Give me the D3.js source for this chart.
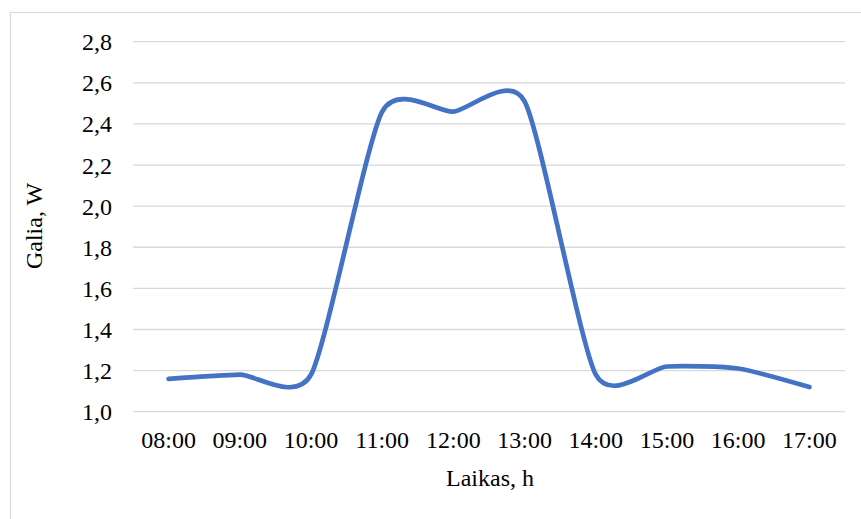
<!doctype html>
<html>
<head>
    <meta charset="UTF-8">
    <title>Galia</title>
    <script src="https://d3js.org/d3.v7.min.js"></script>
    <style>
        body { margin:0; background:#fff; }
        text { font-family:"Liberation Serif","Times New Roman",serif; fill:#000; }
    </style>
</head>
<body>
<script>
    var hours = ["08:00","09:00","10:00","11:00","12:00","13:00","14:00","15:00","16:00","17:00"];
    var power = [1.16,1.18,1.18,2.46,2.46,2.51,1.18,1.22,1.21,1.12];
    var yTicks = [1.0,1.2,1.4,1.6,1.8,2.0,2.2,2.4,2.6,2.8];

    var w = 861, h = 519;
    var padL = 133, padR = 845, padT = 41.7, padB = 411.7;
    var fs = 24;

    var svg = d3.select("body").append("svg")
        .attr("width", w).attr("height", h);

    // outer chart frame
    svg.append("rect")
        .attr("x", 10.5).attr("y", 12.5)
        .attr("width", 870).attr("height", 530)
        .attr("fill", "none").attr("stroke", "#d9d9d9").attr("stroke-width", 1.2);

    var x = d3.scaleBand().domain(hours).range([padL, padR]);
    var y = d3.scaleLinear().domain([1.0, 2.8]).range([padB, padT]);

    // gridlines
    svg.selectAll("line.grid").data(yTicks).enter().append("line")
        .attr("class", "grid")
        .attr("x1", padL).attr("x2", padR)
        .attr("y1", function(d){ return y(d); })
        .attr("y2", function(d){ return y(d); })
        .attr("stroke", "#d9d9d9").attr("stroke-width", 1.3);

    // y tick labels
    svg.selectAll("text.ytick").data(yTicks).enter().append("text")
        .attr("class", "ytick")
        .attr("x", 112)
        .attr("y", function(d){ return y(d) + 8.5; })
        .attr("text-anchor", "end")
        .attr("font-size", fs)
        .text(function(d){ return d.toFixed(1).replace(".", ","); });

    // x tick labels
    svg.selectAll("text.xtick").data(hours).enter().append("text")
        .attr("class", "xtick")
        .attr("x", function(d){ return x(d) + x.bandwidth()/2; })
        .attr("y", 448)
        .attr("text-anchor", "middle")
        .attr("font-size", fs)
        .text(function(d){ return d; });

    // smoothed line (Excel-like, softer than catmull-rom)
    var line = d3.line()
        .x(function(d,i){ return x(hours[i]) + x.bandwidth()/2; })
        .y(function(d){ return y(d); })
        .curve(d3.curveCardinal.tension(0.35));

    svg.append("path")
        .datum(power)
        .attr("d", line)
        .attr("fill", "none")
        .attr("stroke", "#4472c4")
        .attr("stroke-width", 4.7)
        .attr("stroke-linecap", "round")
        .attr("stroke-linejoin", "round");

    // axis titles
    svg.append("text")
        .attr("transform", "translate(42,226) rotate(-90)")
        .attr("text-anchor", "middle")
        .attr("font-size", fs)
        .text("Galia, W");

    svg.append("text")
        .attr("x", 490).attr("y", 486)
        .attr("text-anchor", "middle")
        .attr("font-size", fs)
        .text("Laikas, h");
</script>
</body>
</html>
